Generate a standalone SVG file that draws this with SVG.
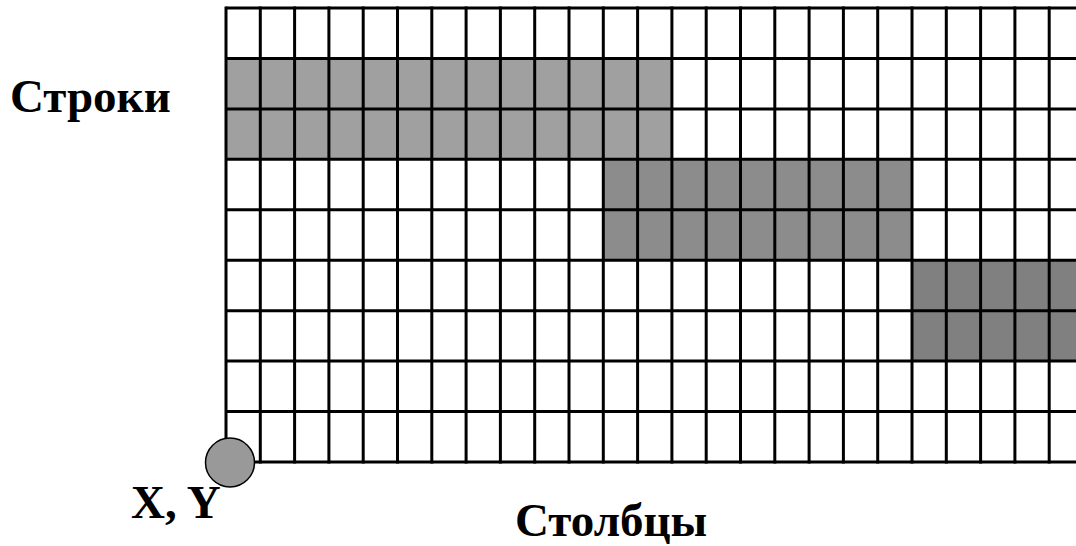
<svg xmlns="http://www.w3.org/2000/svg" width="1076" height="546" viewBox="0 0 1076 546">
<style>
.lbl{font-family:"Liberation Serif","Times New Roman",serif;font-weight:bold;font-size:47px;fill:#000}
.grid line{stroke:#000;stroke-width:3}
</style>
<rect width="1076" height="546" fill="#fff"/>
<g id="bands">
<rect x="226" y="58.4" width="446" height="100.9" fill="#a0a0a0"/>
<rect x="603.3" y="159.3" width="308.7" height="100.9" fill="#8c8c8c"/>
<rect x="912" y="260.2" width="180" height="100.9" fill="#808080"/>
</g>
<g id="grid" class="grid">
<line x1="226" y1="8" x2="1080" y2="8"/>
<line x1="226" y1="58.4" x2="1080" y2="58.4"/>
<line x1="226" y1="108.9" x2="1080" y2="108.9"/>
<line x1="226" y1="159.3" x2="1080" y2="159.3"/>
<line x1="226" y1="209.8" x2="1080" y2="209.8"/>
<line x1="226" y1="260.2" x2="1080" y2="260.2"/>
<line x1="226" y1="310.7" x2="1080" y2="310.7"/>
<line x1="226" y1="361.1" x2="1080" y2="361.1"/>
<line x1="226" y1="411.6" x2="1080" y2="411.6"/>
<line x1="226" y1="462" x2="1080" y2="462"/>
<line x1="226" y1="6.5" x2="226" y2="463.5"/>
<line x1="260.3" y1="6.5" x2="260.3" y2="463.5"/>
<line x1="294.6" y1="6.5" x2="294.6" y2="463.5"/>
<line x1="328.9" y1="6.5" x2="328.9" y2="463.5"/>
<line x1="363.2" y1="6.5" x2="363.2" y2="463.5"/>
<line x1="397.5" y1="6.5" x2="397.5" y2="463.5"/>
<line x1="431.8" y1="6.5" x2="431.8" y2="463.5"/>
<line x1="466.1" y1="6.5" x2="466.1" y2="463.5"/>
<line x1="500.4" y1="6.5" x2="500.4" y2="463.5"/>
<line x1="534.7" y1="6.5" x2="534.7" y2="463.5"/>
<line x1="569" y1="6.5" x2="569" y2="463.5"/>
<line x1="603.3" y1="6.5" x2="603.3" y2="463.5"/>
<line x1="637.6" y1="6.5" x2="637.6" y2="463.5"/>
<line x1="671.9" y1="6.5" x2="671.9" y2="463.5"/>
<line x1="706.2" y1="6.5" x2="706.2" y2="463.5"/>
<line x1="740.5" y1="6.5" x2="740.5" y2="463.5"/>
<line x1="774.8" y1="6.5" x2="774.8" y2="463.5"/>
<line x1="809.1" y1="6.5" x2="809.1" y2="463.5"/>
<line x1="843.4" y1="6.5" x2="843.4" y2="463.5"/>
<line x1="877.7" y1="6.5" x2="877.7" y2="463.5"/>
<line x1="912" y1="6.5" x2="912" y2="463.5"/>
<line x1="946.3" y1="6.5" x2="946.3" y2="463.5"/>
<line x1="980.6" y1="6.5" x2="980.6" y2="463.5"/>
<line x1="1014.9" y1="6.5" x2="1014.9" y2="463.5"/>
<line x1="1049.2" y1="6.5" x2="1049.2" y2="463.5"/>
</g>
<g id="origin">
<circle cx="230" cy="462.5" r="24.5" fill="#999" stroke="#000" stroke-width="1.5"/>
</g>
<g id="labels">
<text class="lbl" x="10" y="112">Строки</text>
<text class="lbl" x="131" y="518">X, Y</text>
<text class="lbl" x="515" y="536">Столбцы</text>
</g>
</svg>
